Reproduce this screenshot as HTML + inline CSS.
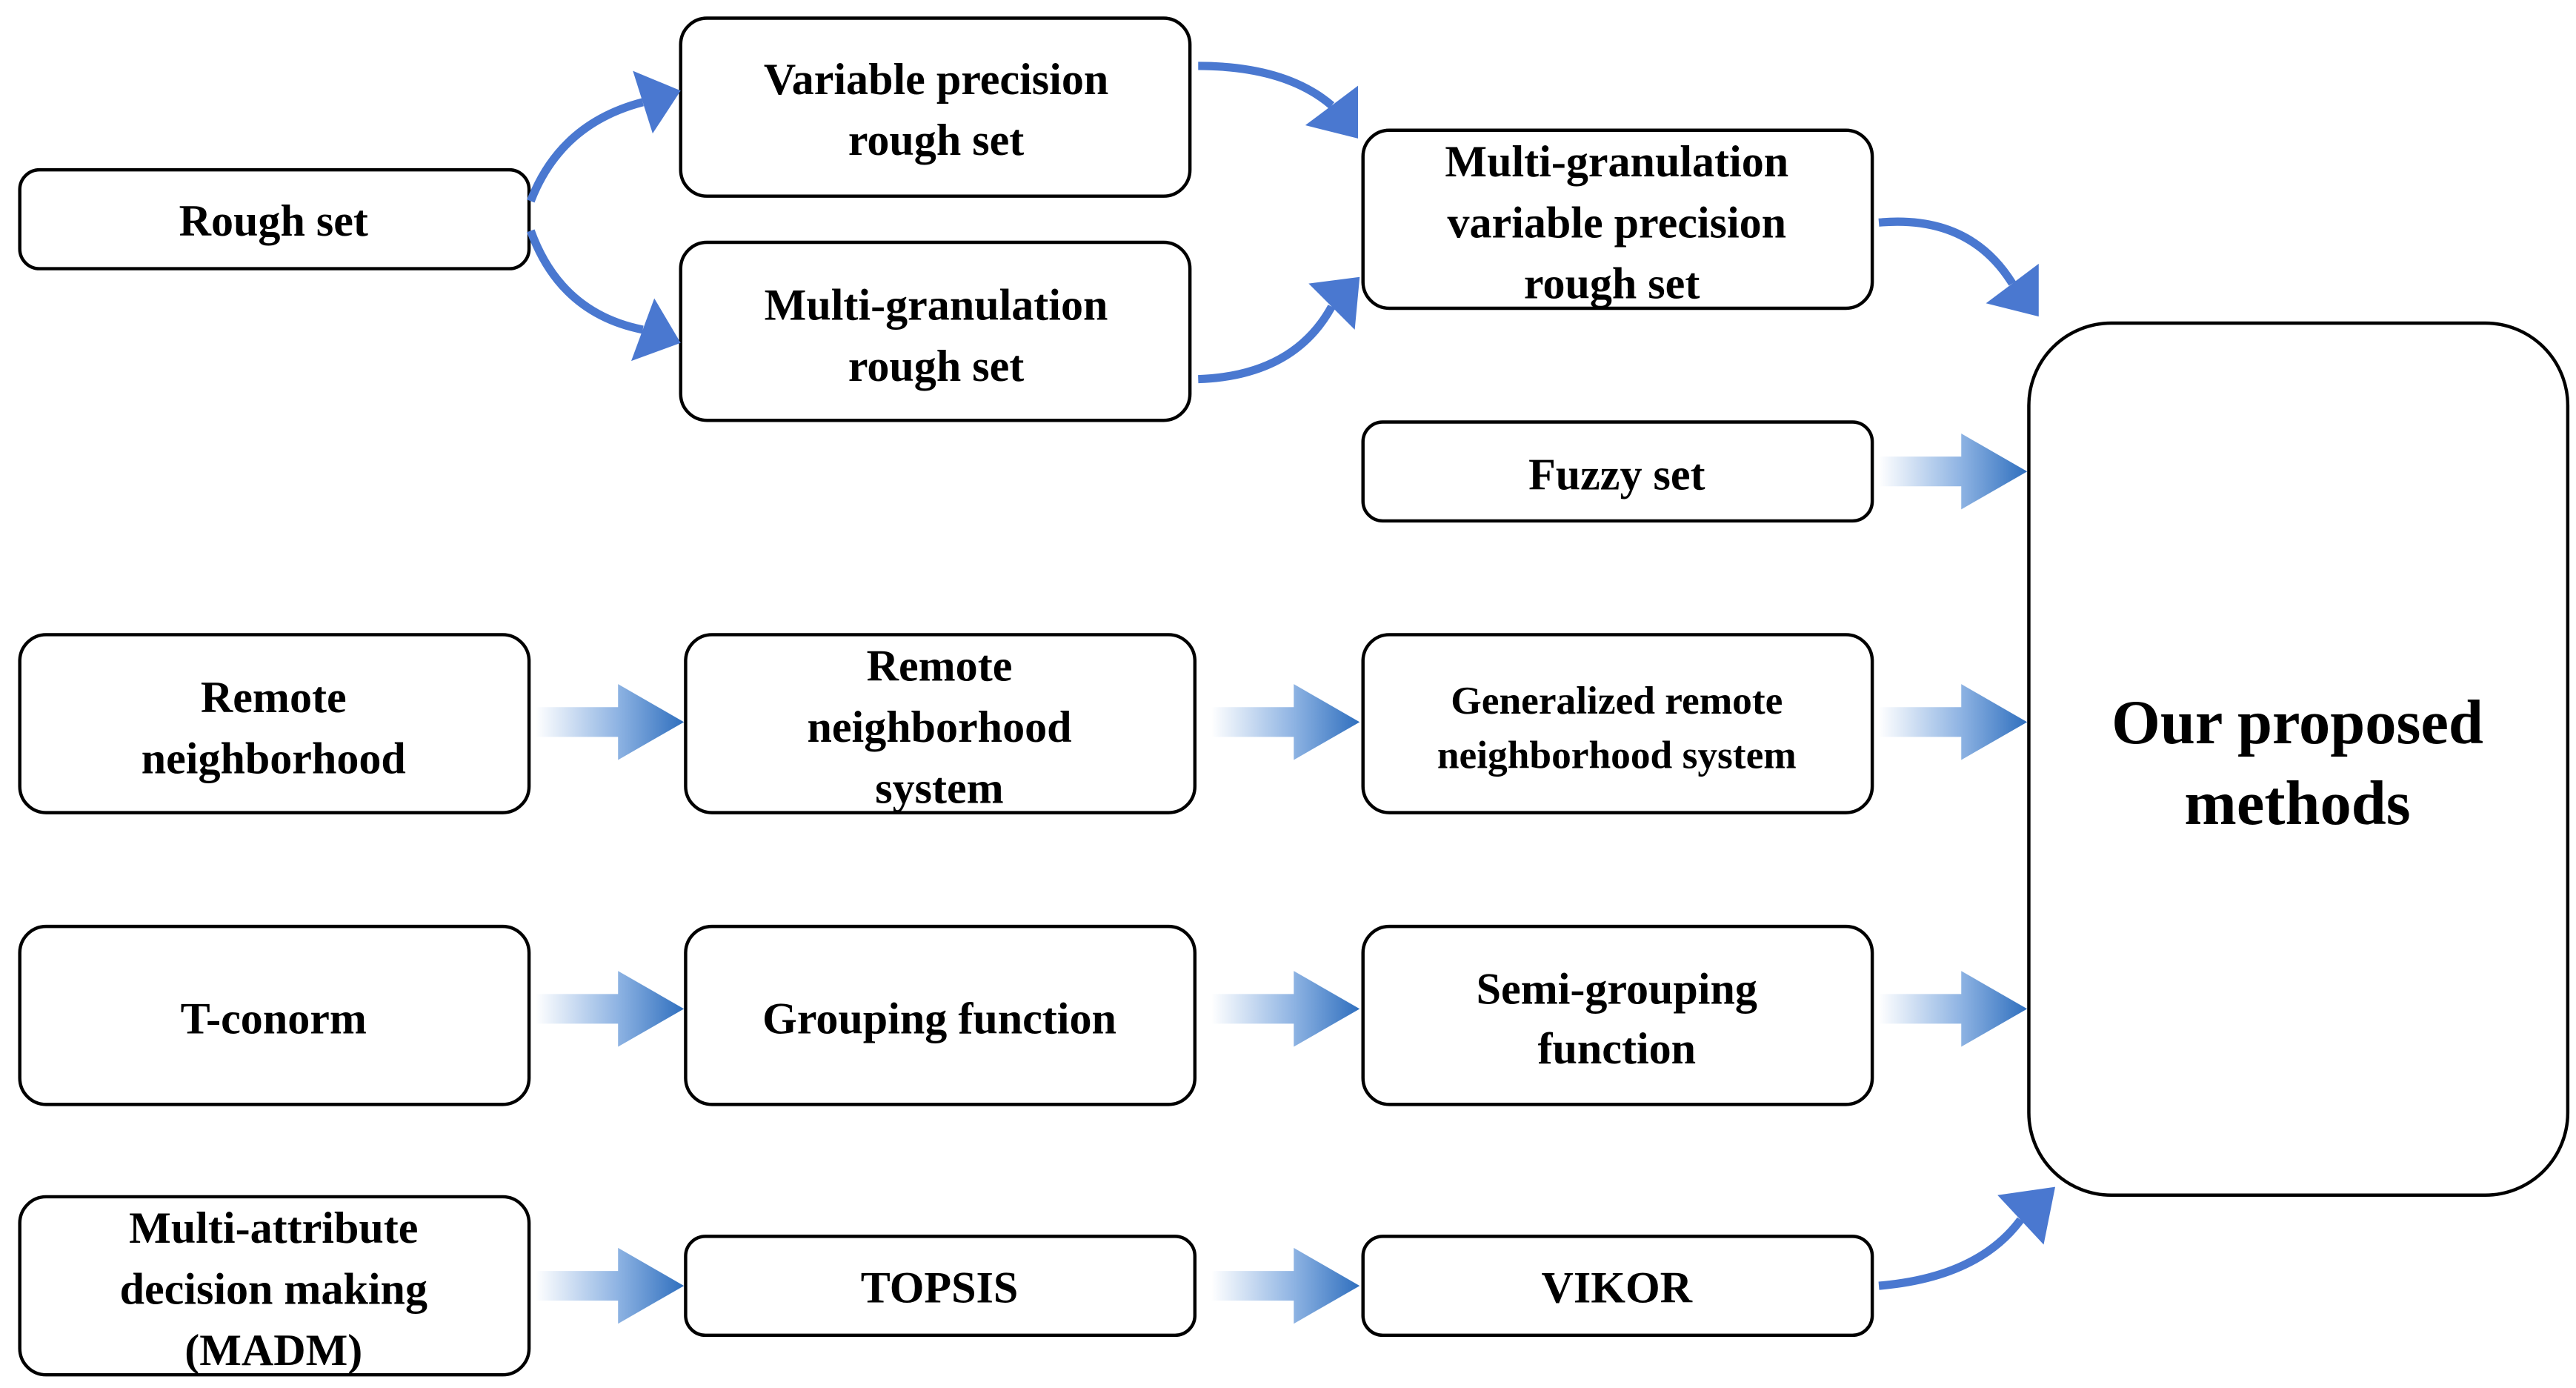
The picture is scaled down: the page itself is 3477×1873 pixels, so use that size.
<!DOCTYPE html>
<html><head><meta charset="utf-8"><style>html,body{margin:0;padding:0;background:#fff}svg{display:block}</style></head>
<body>
<svg width="3477" height="1873" viewBox="0 0 1563 842" preserveAspectRatio="none" xmlns="http://www.w3.org/2000/svg">
<defs>
<linearGradient id="g" x1="0" y1="0" x2="1" y2="0">
<stop offset="0" stop-color="#ffffff"/><stop offset="0.55" stop-color="#8fb4e3"/><stop offset="1" stop-color="#2f6fbe"/>
</linearGradient>
<symbol id="sa" overflow="visible"><polygon points="0,-9 50,-9 50,-23 90,0 50,23 50,9 0,9" fill="url(#g)"/></symbol>
</defs>
<g fill="#fff" stroke="#000" stroke-width="2">
<rect x="12" y="103" width="309" height="60" rx="12"/>
<rect x="413" y="11" width="309" height="108" rx="16"/>
<rect x="413" y="147" width="309" height="108" rx="16"/>
<rect x="827" y="79" width="309" height="108" rx="16"/>
<rect x="827" y="256" width="309" height="60" rx="12"/>
<rect x="12" y="385" width="309" height="108" rx="16"/>
<rect x="416" y="385" width="309" height="108" rx="16"/>
<rect x="827" y="385" width="309" height="108" rx="16"/>
<rect x="12" y="562" width="309" height="108" rx="16"/>
<rect x="416" y="562" width="309" height="108" rx="16"/>
<rect x="827" y="562" width="309" height="108" rx="16"/>
<rect x="12" y="726" width="309" height="108" rx="16"/>
<rect x="416" y="750" width="309" height="60" rx="12"/>
<rect x="827" y="750" width="309" height="60" rx="12"/>
<rect x="1231" y="196" width="327" height="529" rx="50"/>
</g>
<use href="#sa" x="1140" y="286"/>
<use href="#sa" x="325" y="438"/><use href="#sa" x="735" y="438"/><use href="#sa" x="1140" y="438"/>
<use href="#sa" x="325" y="612"/><use href="#sa" x="735" y="612"/><use href="#sa" x="1140" y="612"/>
<use href="#sa" x="325" y="780"/><use href="#sa" x="735" y="780"/>
<g fill="none" stroke="#4a78d0" stroke-width="5">
<path d="M322,122 Q340,75 390,62"/>
<path d="M322,140 Q340,190 390,200"/>
<path d="M727,40 Q780,40 808,64"/>
<path d="M727,230 Q785,228 808,186"/>
<path d="M1140,135 Q1195,130 1221,172"/>
<path d="M1140,780 Q1200,775 1226,740"/>
</g>
<g fill="#4a78d0">
<polygon points="413,55 396,81 384,43"/>
<polygon points="413,208 383,219 397,181"/>
<polygon points="824,84 792,76 824,52"/>
<polygon points="825,168 822,200 794,172"/>
<polygon points="1237,192 1205,184 1237,160"/>
<polygon points="1247,720 1240,755 1212,725"/>
</g>
<g font-family="Liberation Serif, serif" font-weight="bold" font-size="27" text-anchor="middle" fill="#000">
<text x="166" y="143">Rough set</text>
<text x="568" y="57">Variable precision</text><text x="568" y="94">rough set</text>
<text x="568" y="194">Multi-granulation</text><text x="568" y="231">rough set</text>
<text x="981" y="107">Multi-granulation</text><text x="981" y="144">variable precision</text><text x="978" y="181">rough set</text>
<text x="981" y="297">Fuzzy set</text>
<text x="166" y="432">Remote</text><text x="166" y="469">neighborhood</text>
<text x="570" y="413">Remote</text><text x="570" y="450">neighborhood</text><text x="570" y="487">system</text>
<text x="981" y="433" font-size="24">Generalized remote</text><text x="981" y="466" font-size="24">neighborhood system</text>
<text x="166" y="627">T-conorm</text>
<text x="570" y="627">Grouping function</text>
<text x="981" y="609">Semi-grouping</text><text x="981" y="645">function</text>
<text x="166" y="754">Multi-attribute</text><text x="166" y="791">decision making</text><text x="166" y="828">(MADM)</text>
<text x="570" y="790">TOPSIS</text>
<text x="981" y="790">VIKOR</text>
<text x="1394" y="451" font-size="38">Our proposed</text><text x="1394" y="500" font-size="38">methods</text>
</g>
</svg>
</body></html>
